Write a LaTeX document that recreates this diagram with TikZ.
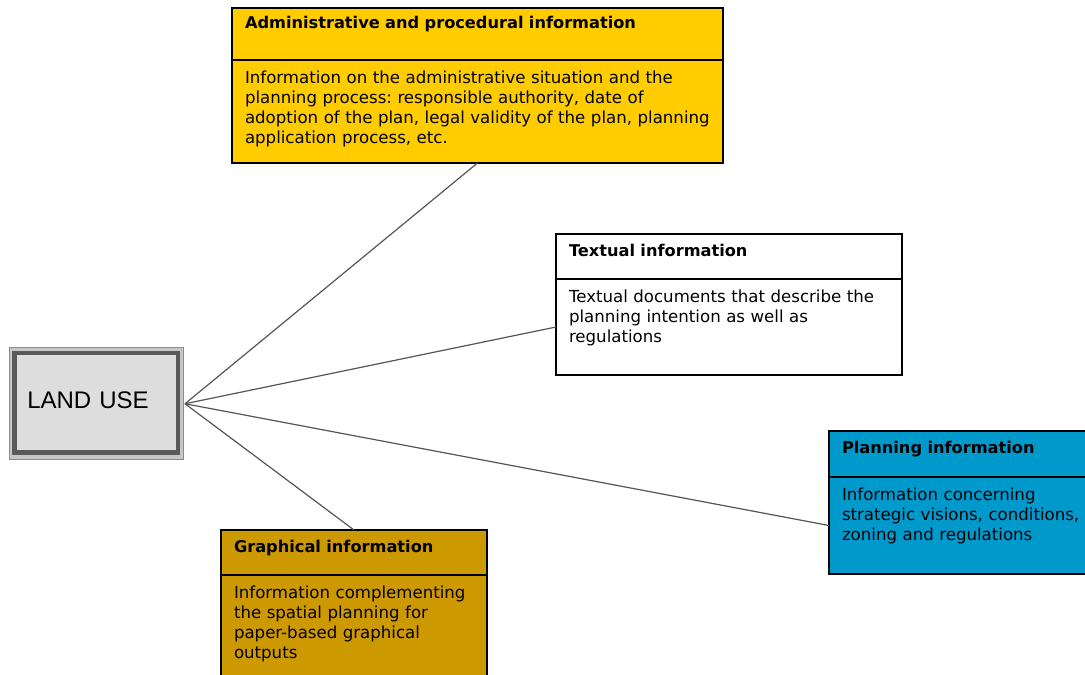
\documentclass[tikz,border=0pt]{standalone}
\usepackage{fontspec}
\setmainfont{DejaVu Sans}
\newfontfamily\landfont{Liberation Sans}
\usepackage{tikz}
\usetikzlibrary{positioning}
\definecolor{admincol}{HTML}{FFCC00}
\definecolor{graphcol}{HTML}{CC9900}
\definecolor{plancol}{HTML}{0099CC}
\definecolor{landcol}{HTML}{DDDDDD}
\definecolor{linkcol}{HTML}{555555}
\frenchspacing

\begin{document}
\begin{tikzpicture}[x=1pt,y=-1pt]
\tikzset{head/.style={draw, line width=2pt, outer sep=0pt, anchor=north west, align=left,
inner xsep=13pt, inner ysep=0pt, text height=22pt, text depth=#1,
font=\fontsize{16.2}{19}\selectfont\bfseries}}
\tikzset{body/.style={draw, line width=2pt, outer sep=0pt, align=left,
inner xsep=13pt, inner ysep=0pt, text height=23pt, text depth=#1,
font=\fontsize{16.6}{20}\selectfont}}
\tikzset{link/.style={draw=linkcol, line width=1.2pt}}
\tikzset{landframe/.style={draw=black!45, fill=black!22, line width=1pt}}
\useasboundingbox (0,0) rectangle (1085,675);

\draw[landframe] (9,347) rectangle (183,459);
\node[draw=black!65, fill=landcol, line width=4.5pt, outer sep=0pt,
minimum width=163.5pt, minimum height=99.5pt, text width=138pt, align=left,
text height=17pt, text depth=6pt,
font=\landfont\fontsize{24}{28}\selectfont] (land) at (96.25,402.75) {LAND USE};
\coordinate (hub) at ([xshift=7pt,yshift=-1pt]land.east);

\node[head=32pt, text height=20pt, fill=admincol, text width=465pt] (admintitle) at (232,8)
{Administrative and procedural information};
\node[body=80pt, fill=admincol, text width=465pt, below=0pt of admintitle] (adminbody)
{Information on the administrative situation and the\\
planning process: responsible authority, date of\\
adoption of the plan, legal validity of the plan, planning\\
application process, etc.};

\node[head=23pt, fill=white, text width=320pt] (texttitle) at (556,234)
{Textual information};
\node[body=73pt, fill=white, text width=320pt, below=0pt of texttitle] (textbody)
{Textual documents that describe the\\
planning intention as well as\\
regulations};

\node[head=24pt, fill=plancol, text width=264pt] (plantitle) at (829,431)
{Planning information};
\node[body=74pt, fill=plancol, text width=264pt, below=0pt of plantitle] (planbody)
{Information concerning\\
strategic visions, conditions,\\
zoning and regulations};

\node[head=23pt, fill=graphcol, text width=240pt] (graphtitle) at (221,530)
{Graphical information};
\node[body=82pt, fill=graphcol, text width=240pt, below=0pt of graphtitle] (graphbody)
{Information complementing\\
the spatial planning for\\
paper-based graphical\\
outputs};

\draw[link] (hub) -- (adminbody.south);
\draw[link] (hub) -- (textbody.west);
\draw[link] (hub) -- (planbody.west);
\draw[link] (hub) -- (graphtitle.north);
\end{tikzpicture}
\end{document}
